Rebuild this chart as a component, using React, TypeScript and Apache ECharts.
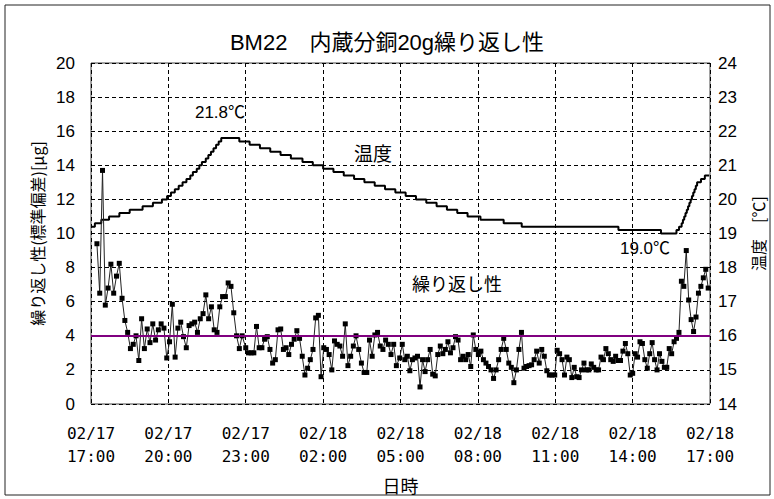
import React, { useEffect, useRef } from "react";
import * as echarts from "echarts";

// x tick labels (every 3 hours from 02/17 17:00)
const xTickLabels = [
  "02/17\n17:00", "02/17\n20:00", "02/17\n23:00", "02/18\n02:00", "02/18\n05:00",
  "02/18\n08:00", "02/18\n11:00", "02/18\n14:00", "02/18\n17:00",
];

// repeatability (std dev, µg) read in four consecutive stretches
const repA = [9.4, 6.5, 13.7, 5.8, 6.8, 8.2, 6.5, 7.5, 8.25, 6.2, 4.9, 4.2, 3.25, 3.5, 4.0, 2.55, 5.0, 3.25, 4.4, 3.6, 4.7, 3.75, 4.35, 4.7, 4.45, 2.7, 3.65, 5.85, 2.75, 4.45, 4.8, 3.95, 3.3, 4.6, 4.7, 4.8, 4.2, 5.0, 5.3, 6.4, 5.0, 5.7, 4.35, 4.2, 5.7, 6.3, 6.3, 7.1, 6.9, 5.35, 4.0, 3.25, 4.0];
const repB = [3.3, 3.0, 3.0, 3.0, 4.55, 3.3, 3.3, 3.8, 3.95, 3.2, 2.4, 2.6, 4.35, 4.4, 3.2, 3.3, 2.9, 3.5, 3.8, 4.3, 3.85, 2.8, 1.7, 2.1, 2.6, 3.2, 5.05, 5.2, 1.6, 3.3, 3.2, 2.9, 2.0, 3.7, 3.5, 3.4, 2.8, 4.7, 2.25, 2.8, 3.4, 4.0, 3.2, 2.4, 1.85, 1.85, 3.75, 2.8, 4.05, 4.2, 3.4, 3.2, 3.75, 3.5, 2.9, 3.5, 2.25];
const repC = [2.7, 3.5, 2.6, 2.8, 1.95, 2.6, 2.7, 2.8, 1.0, 2.6, 1.9, 2.6, 3.2, 1.75, 1.65, 2.9, 3.4, 2.95, 3.2, 3.65, 3.0, 3.3, 3.95, 3.75, 2.6, 2.8, 2.6, 2.9, 2.2, 4.05, 3.2, 2.9, 3.1, 2.6, 2.4, 2.2, 2.0, 1.5, 2.0, 2.6, 3.2, 3.85, 3.2, 2.4, 2.15, 1.25, 2.0, 3.2, 4.2, 2.1, 2.2, 2.25, 2.3, 2.6, 3.1, 2.4, 3.2, 2.8, 1.95, 1.7, 1.7];
const repD = [1.7, 3.15, 2.95, 2.6, 1.7, 2.75, 2.6, 1.55, 2.15, 1.6, 1.55, 2.0, 2.4, 2.0, 2.0, 2.35, 2.15, 2.0, 2.0, 2.75, 2.6, 3.25, 2.95, 2.6, 2.5, 2.8, 2.55, 2.55, 3.1, 3.55, 2.95, 1.7, 1.8, 2.95, 2.75, 3.65, 3.55, 2.6, 2.1, 2.95, 3.6, 2.6, 2.0, 2.95, 2.5, 2.15, 2.15, 3.25, 2.95, 3.65, 3.85, 4.2, 7.2, 6.9, 9.0, 6.1, 4.95, 4.25, 5.1, 6.5, 6.9, 7.4, 7.9, 6.8];
// start / end hours (after 02/17 17:00) of each stretch
const repSpans = [
  [0.23, 5.86],
  [6.0, 11.84],
  [11.97, 17.87],
  [17.98, 23.93],
];

// temperature change points: hours after 17:00, °C
const tempHours = [0.0, 0.15, 0.4, 0.7, 1.1, 1.5, 2.0, 2.4, 2.75, 2.95, 3.1, 3.25, 3.4, 3.55, 3.7, 3.85, 3.95, 4.1, 4.2, 4.3, 4.45, 4.55, 4.65, 4.75, 4.85, 4.95, 5.05,
  5.75, 6.15, 6.55, 6.95, 7.35, 7.75, 8.2, 8.6, 9.0, 9.4, 9.8, 10.2, 10.6, 11.0, 11.4, 11.8, 12.2, 12.6, 13.0, 13.4, 13.8, 14.2, 14.6, 15.1, 16.0, 16.7, 20.45, 22.1,
  22.7, 22.8, 22.9, 22.95, 23.0, 23.05, 23.1, 23.15, 23.2, 23.25, 23.3, 23.35, 23.4, 23.45, 23.5, 23.65, 23.8, 23.97];
const tempValues = [19.2, 19.3, 19.4, 19.5, 19.6, 19.7, 19.8, 19.9, 20.0, 20.1, 20.2, 20.3, 20.4, 20.5, 20.6, 20.7, 20.8, 20.9, 21.0, 21.1, 21.2, 21.3, 21.4, 21.5, 21.6, 21.7, 21.8,
  21.7, 21.6, 21.5, 21.4, 21.3, 21.2, 21.1, 21.0, 20.9, 20.8, 20.7, 20.6, 20.5, 20.4, 20.3, 20.2, 20.1, 20.0, 19.9, 19.8, 19.7, 19.6, 19.5, 19.4, 19.3, 19.2, 19.1, 19.0,
  19.1, 19.2, 19.3, 19.4, 19.5, 19.6, 19.7, 19.8, 19.9, 20.0, 20.1, 20.2, 20.3, 20.4, 20.5, 20.6, 20.7, 20.7];

const refLine = 4.0;

const JP = "'Noto Sans CJK JP', sans-serif";
const LAT = "'Liberation Sans', 'Noto Sans CJK JP', sans-serif";

export default function App() {
  const ref = useRef<HTMLDivElement>(null);
  useEffect(() => {
    if (!ref.current) return;
    const chart = echarts.init(ref.current, undefined, { renderer: "svg" });

    const repData: number[][] = [];
    [repA, repB, repC, repD].forEach((arr, k) => {
      const [s, e] = repSpans[k];
      const step = (e - s) / (arr.length - 1);
      arr.forEach((v, i) => repData.push([s + i * step, v]));
    });
    const tempData = tempHours.map((h, i) => [h, tempValues[i]]);

    const dashed = { color: "#000", type: [4, 3] as any, width: 1 };

    chart.setOption({
      animation: false,
      backgroundColor: "#fff",
      title: {
        text: "BM22\u3000内蔵分銅20g繰り返し性",
        left: "center",
        top: 26,
        textStyle: { fontFamily: LAT, fontSize: 22, fontWeight: "normal", color: "#000" },
      },
      grid: {
        left: 91, right: 60, top: 63, bottom: 95,
        show: true, borderColor: "#444", borderWidth: 1, backgroundColor: "#fff",
      },
      xAxis: {
        type: "value", min: 0, max: 24, interval: 3,
        name: "日時", nameLocation: "middle", nameGap: 72,
        nameTextStyle: { fontFamily: JP, fontSize: 18, color: "#000" },
        axisLine: { show: false }, axisTick: { show: false },
        axisLabel: {
          formatter: (v: number) => xTickLabels[Math.round(v / 3)] ?? "",
          fontFamily: "'DejaVu Sans Mono', monospace", fontSize: 16, color: "#000",
          lineHeight: 23, margin: 18,
        },
        splitLine: { show: true, lineStyle: dashed },
      },
      yAxis: [
        {
          type: "value", min: 0, max: 20, interval: 2,
          name: "繰り返し性(標準偏差)[μg]", nameLocation: "middle", nameGap: 46, nameRotate: 90,
          nameTextStyle: { fontFamily: JP, fontSize: 16, color: "#000" },
          axisLine: { show: false }, axisTick: { show: false },
          axisLabel: { fontFamily: LAT, fontSize: 17, color: "#000", margin: 16 },
          splitLine: { show: true, lineStyle: dashed },
        },
        {
          type: "value", min: 14, max: 24, interval: 1, position: "right",
          name: "温度\u3000[℃]", nameLocation: "middle", nameGap: 40, nameRotate: 90,
          nameTextStyle: { fontFamily: JP, fontSize: 16, color: "#000" },
          axisLine: { show: false }, axisTick: { show: false },
          axisLabel: { fontFamily: LAT, fontSize: 17, color: "#000", margin: 8 },
          splitLine: { show: false },
        },
      ],
      series: [
        {
          name: "温度", type: "line", yAxisIndex: 1, data: tempData, step: "end",
          showSymbol: false, symbol: "none",
          lineStyle: { color: "#000", width: 2 }, z: 2,
        },
        {
          name: "繰り返し性", type: "line", yAxisIndex: 0, data: repData,
          symbol: "rect", symbolSize: 5, showSymbol: true,
          itemStyle: { color: "#000" },
          lineStyle: { color: "#222", width: 1 }, z: 3,
          markLine: {
            silent: true, symbol: "none", label: { show: false },
            lineStyle: { color: "#800080", width: 2, type: "solid" },
            data: [{ yAxis: refLine }],
          },
        },
      ],
      graphic: [
        { type: "rect", shape: { x: 5, y: 5, width: 765, height: 490 }, style: { fill: "none", stroke: "#222", lineWidth: 1 }, silent: true },
        { type: "text", x: 220, y: 112, style: { text: "21.8℃", font: `17px ${LAT}`, fill: "#000", align: "center", verticalAlign: "middle" } },
        { type: "text", x: 373, y: 152, style: { text: "温度", font: `19px ${JP}`, fill: "#000", align: "center", verticalAlign: "middle" } },
        { type: "text", x: 457, y: 283, style: { text: "繰り返し性", font: `18px ${JP}`, fill: "#000", align: "center", verticalAlign: "middle" } },
        { type: "text", x: 645, y: 248, style: { text: "19.0℃", font: `17px ${LAT}`, fill: "#000", align: "center", verticalAlign: "middle" } },
      ],
    });
    return () => chart.dispose();
  }, []);
  return <div ref={ref} style={{ position: "fixed", left: 0, top: 0, width: 774, height: 499 }} />;
}
